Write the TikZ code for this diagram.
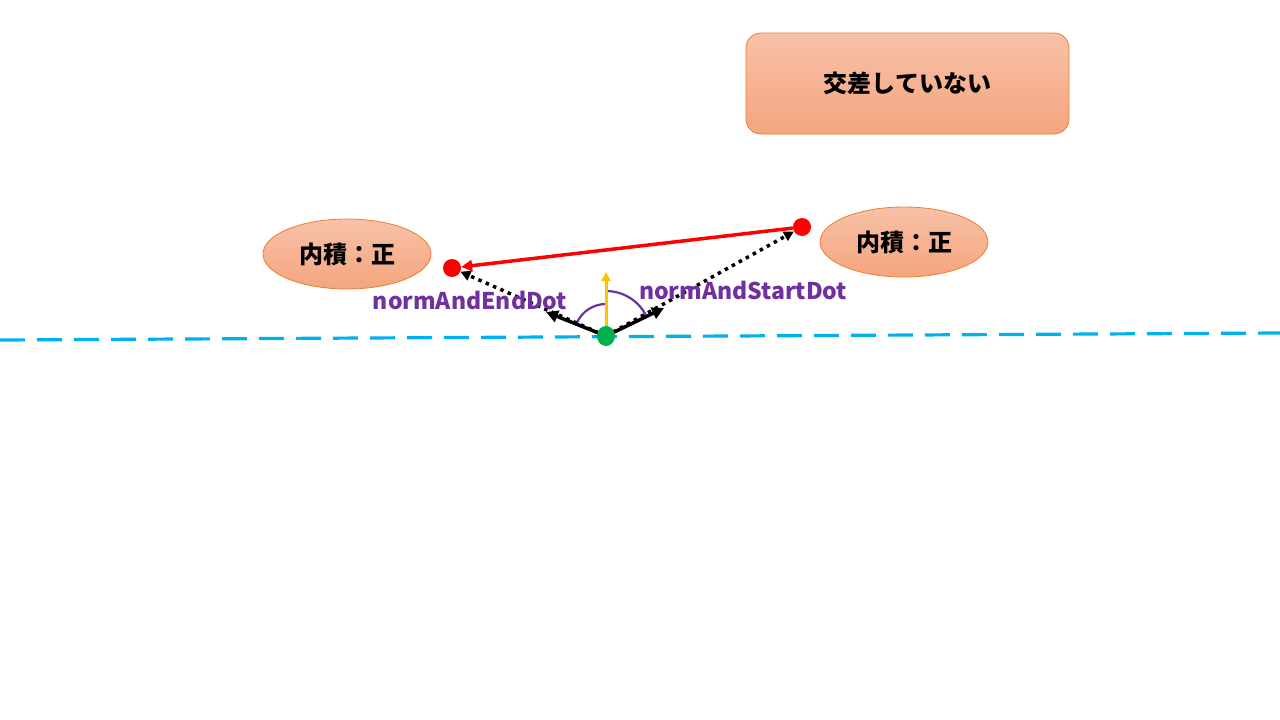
\documentclass[tikz,border=0pt]{standalone}
\usepackage{fontspec}
\newfontfamily\jp{Noto Sans CJK JP}
\usetikzlibrary{arrows.meta,shapes.geometric}
\definecolor{cyanline}{HTML}{00B0F0}
\definecolor{greendot}{HTML}{00B050}
\definecolor{purp}{HTML}{7030A0}
\definecolor{gold}{HTML}{FFC000}
\definecolor{salmontop}{HTML}{F8C1A8}
\definecolor{salmonbot}{HTML}{F4A57D}
\definecolor{salmonedge}{HTML}{ED7D31}
\tikzset{
  pinkshape/.style={draw=salmonedge, line width=0.8pt, top color=salmontop, bottom color=salmonbot, font=\jp\bfseries\fontsize{24}{28}\selectfont, text=black},
  reddot/.style={circle, fill=red, minimum size=18pt, inner sep=0pt},
  dotarrow/.style={black, line width=3.5pt, dash pattern=on 3.5pt off 4.5pt, -{Triangle[length=10pt,width=10pt]}},
  solidarrow/.style={black, line width=3.5pt, -{Triangle[length=12pt,width=12pt]}},
  purplabel/.style={text=purp, font=\jp\bfseries\fontsize{23}{26}\selectfont, inner sep=0pt},
}
\begin{document}
\begin{tikzpicture}[x=1pt,y=-1pt]
\useasboundingbox (0,0) rectangle (1280,720);
\fill[white] (0,0) rectangle (1280,720);
% dashed base line
\coordinate (L0) at (0,340);
\coordinate (L1) at (1280,333);
\draw[cyanline, line width=3.2pt, dash pattern=on 25pt off 12pt] (L0) -- (L1);
% nodes
\node[reddot] (E) at (452,268) {};
\node[reddot] (S) at (802,227) {};
\coordinate (Oc) at (606,336);
\coordinate (LA) at (546,312);
\coordinate (RA) at (664,308);
\coordinate (UP) at (606,272);
% arcs (y axis flipped: screen angle t is -t here)
\draw[purp, line width=2.2pt] (Oc) ++(-156:32) arc[start angle=-156, end angle=-90, radius=32];
\draw[purp, line width=2.2pt] (Oc) ++(-90:45) arc[start angle=-90, end angle=-27, radius=45];
% yellow normal
\draw[gold, line width=3pt, -{Triangle[length=9pt,width=9pt]}] (Oc) -- (UP);
% red segment
\draw[red, line width=3.5pt, -{Triangle[length=11pt,width=11pt]}] (S) -- (E);
% dotted vectors
\draw[dotarrow] (Oc) -- (E);
\draw[dotarrow] (Oc) -- (S);
% solid arrows
\draw[solidarrow] (Oc) -- (LA);
\draw[solidarrow] (Oc) -- (RA);
% green dot
\node[ellipse, fill=greendot, minimum width=18pt, minimum height=20pt, inner sep=0pt] (O) at (606,336) {};
% labels
\node[purplabel] (lblE) at (470,300) {normAndEndDot};
\node[purplabel] (lblS) at (743,290) {normAndStartDot};
% ellipses
\node[pinkshape, ellipse, minimum width=168pt, minimum height=70pt, inner sep=0pt] (EL) at (347,254) {内積：正};
\node[pinkshape, ellipse, minimum width=168pt, minimum height=70pt, inner sep=0pt] (ER) at (904,242) {内積：正};
% rounded box
\node[pinkshape, rounded corners=15pt, minimum width=323pt, minimum height=101pt, inner sep=0pt] (B) at (907.5,83.5) {交差していない};
\end{tikzpicture}
\end{document}
